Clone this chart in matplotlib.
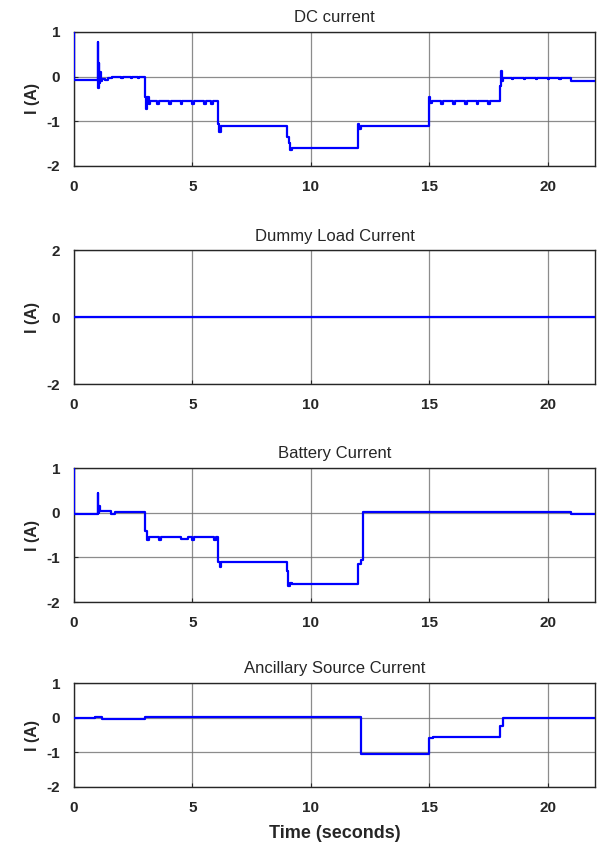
import numpy as np
import matplotlib
matplotlib.use('Agg')
import matplotlib.pyplot as plt

plt.rcParams['font.family'] = ['Liberation Sans', 'DejaVu Sans']
plt.rcParams['axes.unicode_minus'] = False

# Datos: (tiempo en s, corriente en A), en escalones
titles = ['DC current', 'Dummy Load Current', 'Battery Current', 'Ancillary Source Current']
ylims = [(-2, 1), (-2, 2), (-2, 1), (-2, 1)]
yticks = [[-2, -1, 0, 1], [-2, 0, 2], [-2, -1, 0, 1], [-2, -1, 0, 1]]
xticks = [0, 5, 10, 15, 20]
xmax = 22

dc_pts = [(0, 1.0), (0.005, -0.08), (1.0, 0.78), (1.02, -0.26), (1.04, 0.3), (1.07, -0.15),
          (1.1, 0.1), (1.14, -0.1), (1.2, -0.05), (1.3, -0.08), (1.45, -0.03), (1.6, 0.0),
          (2.0, -0.04), (2.05, 0.0), (2.4, -0.04), (2.45, 0.0), (2.7, -0.04), (2.75, 0.0),
          (3.0, -0.45), (3.05, -0.72), (3.1, -0.45), (3.15, -0.62), (3.2, -0.55),
          (3.5, -0.62), (3.58, -0.55), (4.0, -0.62), (4.08, -0.55), (4.5, -0.62), (4.58, -0.55),
          (5.0, -0.62), (5.08, -0.55), (5.5, -0.62), (5.58, -0.55), (5.8, -0.62), (5.85, -0.55),
          (6.1, -1.05), (6.13, -1.25), (6.2, -1.1), (9.0, -1.35), (9.06, -1.48), (9.1, -1.65),
          (9.2, -1.6), (12.0, -1.05), (12.04, -1.18), (12.1, -1.1), (15.0, -0.45), (15.05, -0.6),
          (15.1, -0.55), (15.5, -0.62), (15.58, -0.55), (16.0, -0.62), (16.08, -0.55),
          (16.5, -0.62), (16.58, -0.55), (17.0, -0.62), (17.08, -0.55), (17.5, -0.62),
          (17.58, -0.55), (18.0, -0.2), (18.03, 0.12), (18.06, -0.1), (18.1, -0.02),
          (18.5, -0.05), (18.55, -0.02), (19.0, -0.05), (19.05, -0.02), (19.5, -0.05),
          (19.55, -0.02), (20.0, -0.05), (20.05, -0.02), (20.5, -0.05), (20.55, -0.02),
          (21.0, -0.1), (22, -0.1)]

dummy_pts = [(0, 0.0), (22, 0.0)]

bat_pts = [(0, 1.0), (0.005, -0.02), (1.0, 0.45), (1.03, 0.0), (1.06, 0.15), (1.1, 0.04),
           (1.55, -0.04), (1.75, 0.02), (3.0, -0.4), (3.08, -0.62), (3.15, -0.55),
           (3.6, -0.62), (3.68, -0.55), (4.5, -0.6), (4.8, -0.55), (5.0, -0.62), (5.08, -0.55),
           (5.9, -0.62), (5.98, -0.55), (6.1, -1.1), (6.15, -1.22), (6.22, -1.1),
           (9.0, -1.3), (9.05, -1.65), (9.12, -1.58), (9.2, -1.6), (12.0, -1.15),
           (12.1, -1.05), (12.2, 0.02), (21.0, -0.02), (22, -0.02)]

anc_pts = [(0, -0.02), (0.9, 0.03), (1.2, -0.03), (3.0, 0.02), (12.1, -1.05),
           (15.0, -0.6), (15.15, -0.55), (18.0, -0.25), (18.1, 0.0), (22, 0.0)]

series = [dc_pts, dummy_pts, bat_pts, anc_pts]

# Posiciones de los ejes en la figura (fracción)
rects = [[0.1223, 0.8052, 0.8612, 0.1573],
         [0.1223, 0.5490, 0.8612, 0.1573],
         [0.1223, 0.2934, 0.8612, 0.1573],
         [0.1223, 0.0763, 0.8612, 0.1220]]

txt = '#262626'
fig = plt.figure(figsize=(6.05, 8.52), dpi=100)

for k in range(4):
    ax = fig.add_axes(rects[k])
    pts = np.array(series[k])
    ax.plot(pts[:, 0], pts[:, 1], color='#0000ff', linewidth=1.6,
            drawstyle='steps-post', zorder=3)
    ax.set_xlim(0, xmax)
    ax.set_ylim(*ylims[k])
    ax.set_xticks(xticks)
    ax.set_yticks(yticks[k])
    ax.grid(True, color='#6f6f6f', linewidth=0.9, alpha=0.8)
    ax.tick_params(direction='in', length=3, color='#262626', labelsize=11,
                   labelcolor=txt)
    ax.tick_params(axis='x', pad=10)
    ax.tick_params(axis='y', pad=10)
    for lab in ax.get_xticklabels() + ax.get_yticklabels():
        lab.set_fontweight('bold')
    for sp in ax.spines.values():
        sp.set_color('#262626')
        sp.set_linewidth(1.0)
    ax.set_title(titles[k], fontsize=12, color=txt, pad=7)
    ax.set_ylabel('I (A)', fontsize=11.5, fontweight='bold', color=txt, labelpad=5)
    if k == 3:
        ax.set_xlabel('Time (seconds)', fontsize=13, fontweight='bold', color=txt, labelpad=7)

fig.savefig('out.png', dpi=100)
